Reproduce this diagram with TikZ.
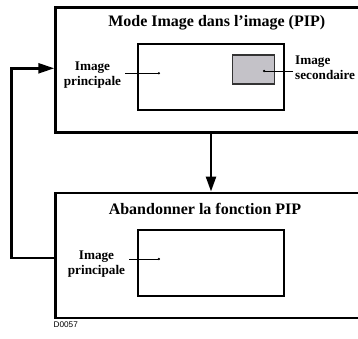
\documentclass[tikz,border=0pt]{standalone}
\usepackage{fontspec}
\setmainfont{Liberation Serif}
\newfontfamily\codefont{Liberation Sans}
\usetikzlibrary{arrows.meta}
\definecolor{insetgray}{RGB}{196,194,200}
\tikzset{
  modebox/.style={draw,line width=2.5pt,minimum width=330pt,minimum height=125pt,inner sep=0pt},
  screen/.style={draw,line width=2pt,minimum width=146pt,minimum height=66pt,inner sep=0pt},
  inset/.style={draw=black!80,fill=insetgray,line width=1.2pt,minimum width=41.5pt,minimum height=29pt,inner sep=0pt},
  boxtitle/.style={font=\fontsize{16}{18}\selectfont\bfseries,inner sep=0pt},
  caption/.style={font=\fontsize{13.2}{15}\selectfont\bfseries,align=center,inner sep=4pt},
  pointer/.style={line width=0.9pt,-{Circle[length=2.2pt]}},
  flow/.style={line width=2.5pt},
}

\begin{document}
\begin{tikzpicture}[x=1pt,y=-1pt]
\useasboundingbox (0,0) rectangle (358,338);
\clip (0,0) rectangle (358,338);
% PIP mode
\node[modebox] (pip) at (220.5,70) {};
\node[boxtitle] (piptitle) at (216.7,22.7) {Mode Image dans l’image (PIP)};
\node[screen] (screenA) at (211,77) {};
\node[inset] (inset) at (253.5,69.5) {};
\node[caption] (mainA) at (92.5,75) {Image\\principale};
\node[caption,align=left,anchor=west,inner sep=2pt] (second) at (293,68) {Image\\secondaire};
\coordinate (ptA) at (160,73.3);
\coordinate (ptS) at (263,71);
\draw[pointer] (mainA.east |- ptA) -- (ptA);
\draw[pointer] (second.west |- ptS) -- (ptS);
% leave PIP
\node[modebox] (abandon) at (220.5,255.3) {};
\node[boxtitle] (abtitle) at (205,209) {Abandonner la fonction PIP};
\node[screen] (screenB) at (211,263) {};
\node[caption] (mainB) at (96.5,264) {Image\\principale};
\coordinate (ptB) at (160,259);
\draw[pointer] (mainB.east |- ptB) -- (ptB);
% connectors
\draw[flow,-{Triangle[length=15pt,width=10pt]}] (screenA |- pip.south) -- (screenA |- abandon.north);
\draw[flow,-{Triangle[length=16pt,width=10pt]}] ([yshift=-2.5pt]abandon.west) -- ++(-43,0) |- ([yshift=1.7pt]pip.west);
\node[font=\codefont\fontsize{8.2}{9}\selectfont,anchor=west,inner sep=0pt] (code) at (53.5,324.5) {D0057};
\end{tikzpicture}
\end{document}
